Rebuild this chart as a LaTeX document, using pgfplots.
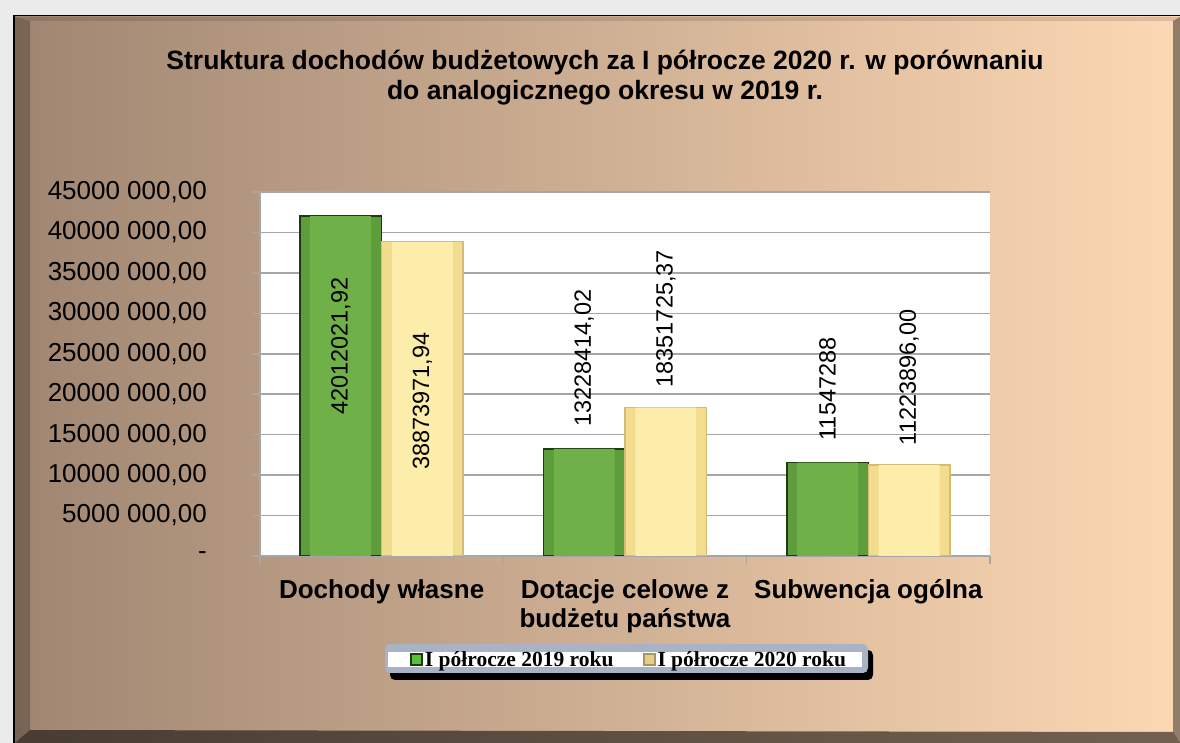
\documentclass[border=0pt]{standalone}
\usepackage{pgfplots}
\pgfplotsset{compat=1.18}
\usepackage{fontspec}
\setmainfont{Liberation Sans}
\newfontfamily\legendfont{Liberation Serif}
\definecolor{gface}{HTML}{70B049}
\definecolor{gbev}{HTML}{5E9C3C}
\definecolor{gedge}{HTML}{1E3A12}
\definecolor{yface}{HTML}{FDEDAA}
\definecolor{ybev}{HTML}{F3DC8E}
\definecolor{yedge}{HTML}{D2BC78}
\definecolor{bgL}{HTML}{A08672}
\definecolor{bgM}{HTML}{DCB293}
\definecolor{bgR}{HTML}{FDD8B4}
\definecolor{gridc}{HTML}{A6A6A6}
\definecolor{legc}{HTML}{A9B3C6}
\definecolor{outerc}{HTML}{EBEBEB}
\tikzset{vlab/.style={font=\fontsize{23.5}{26}\selectfont, text=black, rotate=90, inner ysep=0pt}}
\pgfplotsset{
  gout/.style={ybar, bar width=0.335, bar shift=-0.1675, fill=gbev, draw=gedge, line width=1.5pt},
  yout/.style={ybar, bar width=0.335, bar shift=0.1675, fill=ybev, draw=yedge, line width=1.5pt},
  gbar/.style={ybar, bar width=0.25, bar shift=-0.1675, fill=gface, draw=none,
    legend image code/.code={\draw[fill=gface!80!green, draw=gedge, line width=2pt] (0pt,-5pt) rectangle (11pt,6pt);}},
  ybarst/.style={ybar, bar width=0.25, bar shift=0.1675, fill=yface, draw=none,
    legend image code/.code={\draw[fill=yface!70!brown, draw=yedge!80!black, line width=2pt] (0pt,-5pt) rectangle (11pt,6pt);}},
}
\begin{document}
\begin{tikzpicture}[x=1pt,y=1pt]
% background frame
\fill[outerc] (0,0) rectangle (1180,743);
\fill[black] (13,0) rectangle (1180,728);
\shade[left color=bgL, middle color=bgM, right color=bgR] (15,0) rectangle (1180,726);
\fill[black, opacity=0.12] (15,726) -- (1180,726) -- (1173,722) -- (30,722) -- cycle;
\fill[black, opacity=0.25] (15,726) -- (30,722) -- (30,13) -- (15,0) -- cycle;
\fill[black, opacity=0.55] (15,0) -- (30,13) -- (1173,11) -- (1180,0) -- cycle;
\fill[black, opacity=0.42] (1180,0) -- (1173,11) -- (1173,722) -- (1180,726) -- cycle;
% title
\node[align=center, font=\bfseries\fontsize{26.5}{30}\selectfont] at (605,665)
  {Struktura dochodów budżetowych za I półrocze 2020 r. w porównaniu\\do analogicznego okresu w 2019 r.};
% legend frame
\fill[black, rounded corners=5pt] (390,63) rectangle (873,93);
\fill[legc, rounded corners=5pt] (385,70) rectangle (868,99);
\fill[white] (388,76) rectangle (862,91);
\begin{axis}[
  at={(260pt,187pt)}, anchor=south west, scale only axis,
  width=730pt, height=364pt,
  xmin=-0.5, xmax=2.5, ymin=0, ymax=45000000,
  axis background/.style={fill=white},
  axis x line*=bottom, axis y line*=left,
  axis line style={draw=gridc, line width=1.5pt},
  ymajorgrids, grid style={draw=gridc, line width=1.5pt},
  tick align=outside, major tick length=8pt,
  tick style={draw=gridc, line width=1.5pt},
  scaled y ticks=false,
  ytick={0,5000000,10000000,15000000,20000000,25000000,30000000,35000000,40000000,45000000},
  yticklabels={{-},{5000 000,00},{10000 000,00},{15000 000,00},{20000 000,00},{25000 000,00},{30000 000,00},{35000 000,00},{40000 000,00},{45000 000,00}},
  yticklabel style={font=\fontsize{26}{30}\selectfont, inner xsep=0pt, xshift=-45pt},
  xtick={0,1,2},
  xticklabels={{Dochody własne},{Dotacje celowe z\\budżetu państwa},{Subwencja ogólna}},
  xticklabel style={font=\bfseries\fontsize{26}{29}\selectfont, align=center, yshift=-12pt},
  major x tick style={draw=none},
  extra x ticks={-0.5,0.5,1.5,2.5},
  extra x tick labels={},
  extra x tick style={grid=none, major x tick style={draw=gridc, line width=1.5pt}},
  legend style={at={(0.5055,-0.2857)}, anchor=center, draw=none, fill=none,
    font=\legendfont\bfseries\fontsize{21.5}{23}\selectfont,
    /tikz/every even column/.append style={column sep=27pt}},
  legend columns=2,
]
% outer (bevel) bars
\addplot[gout, forget plot] coordinates {(0,42012021.92) (1,13228414.02) (2,11547288)};
\addplot[yout, forget plot] coordinates {(0,38873971.94) (1,18351725.37) (2,11223896.00)};
% faces with value labels
\addplot[gbar, forget plot, nodes near coords, point meta=explicit symbolic,
  nodes near coords style={xshift=-40.8pt, vlab, anchor=east, inner xsep=61pt}]
  coordinates {(0,42012021.92) [42012021,92]};
\addplot[ybarst, forget plot, nodes near coords, point meta=explicit symbolic,
  nodes near coords style={xshift=40.8pt, vlab, anchor=east, inner xsep=91pt}]
  coordinates {(0,38873971.94) [38873971,94]};
\addplot[gbar, nodes near coords, point meta=explicit symbolic,
  nodes near coords style={xshift=-40.8pt, vlab, anchor=west, inner xsep=22pt}]
  coordinates {(1,13228414.02) [13228414,02] (2,11547288) [11547288]};
\addlegendentry{I półrocze 2019 roku}
\addplot[ybarst, nodes near coords, point meta=explicit symbolic,
  nodes near coords style={xshift=40.8pt, vlab, anchor=west, inner xsep=20pt}]
  coordinates {(1,18351725.37) [18351725,37] (2,11223896.00) [11223896,00]};
\addlegendentry{I półrocze 2020 roku}
\end{axis}
\pgfresetboundingbox
\path[use as bounding box] (0,0) rectangle (1180,743);
\end{tikzpicture}
\end{document}
